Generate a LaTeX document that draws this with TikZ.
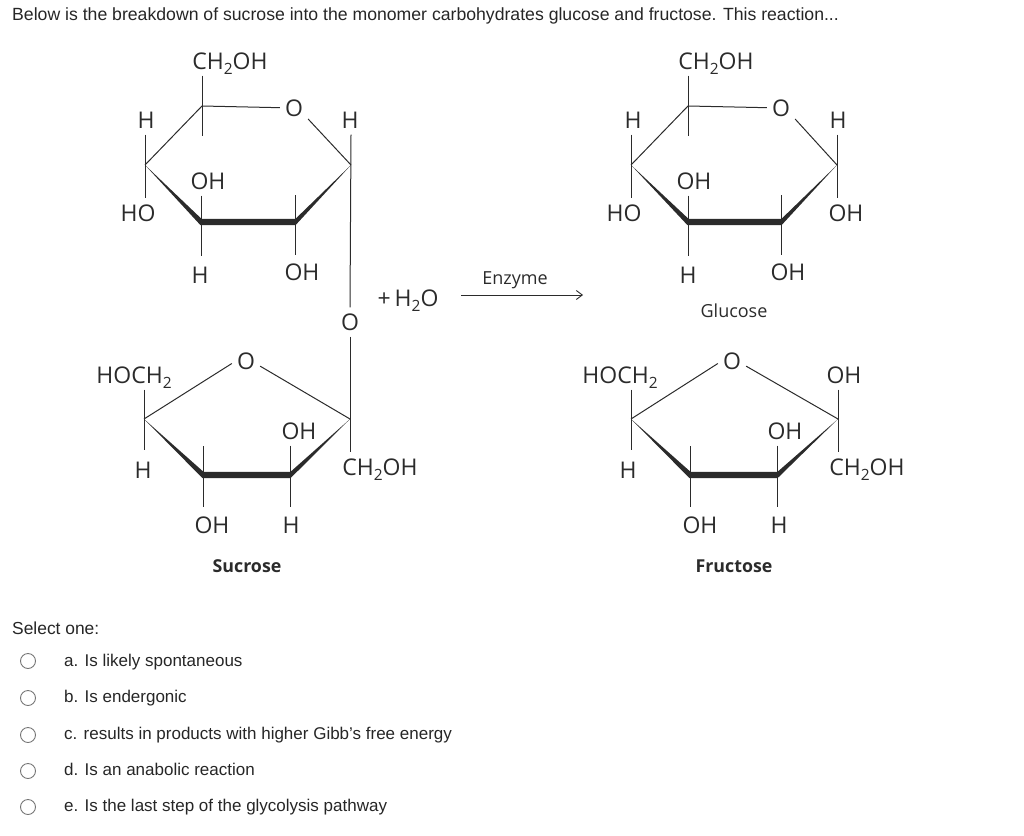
\documentclass[tikz,border=0pt]{standalone}
\usepackage{fontspec}
\setmainfont{Liberation Sans}
\newfontfamily\chemfont{Open Sans}
\usetikzlibrary{arrows.meta}
\definecolor{inkc}{HTML}{2B2B2B}
\definecolor{radioc}{HTML}{757575}
% thick front edge of a ring: left vertex, two lower vertices, right vertex
\newcommand{\ringfront}[4]{%
    \fill [inkc] (#1) -- ([xshift=-.5pt,yshift=-3.2pt]#2) -- ([xshift=.5pt,yshift=-3.2pt]#3) -- (#4)
        -- ([xshift=.5pt,yshift=3.2pt]#3) -- ([xshift=.5pt,yshift=3.2pt]#2) -- cycle;
}
% the lowered 2 of the formulas
\newcommand{\subtwo}{\raisebox{-5pt}{\fontsize{15.5}{16}\selectfont 2}}
\begin{document}
\begin{tikzpicture}[
    x=1pt, y=-1pt,
    % Styles
    atom/.style={% For the labels in the rings
        font=\chemfont\fontsize{23}{26}\selectfont,
        text=inkc,
        text height=16pt,
        text depth=0pt,
        inner xsep=5pt,
        inner ysep=6.5pt,
        },
    caption/.style={% For the sugar names
        font=\chemfont\fontsize{18}{20}\selectfont,
        text=inkc,
        },
    boldcaption/.style={% For the names in bold
        font=\chemfont\bfseries\fontsize{17.8}{20}\selectfont,
        text=inkc,
        },
    bond/.style={% Thin ring and side bonds
        draw=inkc,
        line width=1pt,
        },
    prompt/.style={% For the question text
        anchor=base west,
        inner sep=0pt,
        font=\fontsize{17}{19}\selectfont,
        text=black!85,
        },
    radio/.style={% For the answer circles
        circle,
        draw=radioc,
        line width=.9pt,
        inner sep=0pt,
        minimum size=15pt,
        },
    ]

\useasboundingbox (0,0) rectangle (1024,835);

    % Question text
    \node [prompt, font=\fontsize{17.65}{19}\selectfont] (title) at (12,20) {Below is the breakdown of sucrose into the monomer carbohydrates glucose and fructose. This reaction...};

    % Ring vertices of the sucrose glucose part
    \coordinate (ca1) at (202,106);
    \coordinate (ca2) at (145,165);
    \coordinate (ca3) at (201,222);
    \coordinate (ca4) at (295,222);
    \coordinate (ca5) at (351,165);

    % Labels of the sucrose glucose part
    \node [atom] (cha) at (230,61) {CH\subtwo OH};
    \node [atom] (oa) at (294,108) {O};
    \node [atom] (ha1) at (146,120) {H};
    \node [atom] (ha2) at (350,120) {H};
    \node [atom] (hoa) at (138,213) {HO};
    \node [atom] (oha1) at (208,181) {OH};
    \node [atom] (ha3) at (200,275) {H};
    \node [atom] (oha2) at (302,272) {OH};
    \node [atom] (ol) at (350,322) {O};
    \node [atom] (water) at (408,298) {+\hspace{4pt}H\subtwo O};

    % Ring vertices of the sucrose fructose part
    \coordinate (cb1) at (144,419);
    \coordinate (cb2) at (203,475);
    \coordinate (cb3) at (290,475);
    \coordinate (cb4) at (350,419);

    % Labels of the sucrose fructose part
    \node [atom] (hocb) at (134,375) {HOCH\subtwo};
    \node [atom] (ob) at (246,361) {O};
    \node [atom] (hb1) at (143,470) {H};
    \node [atom] (ohb1) at (299,431) {OH};
    \node [atom] (chb) at (380,467) {CH\subtwo OH};
    \node [atom] (ohb2) at (212,525) {OH};
    \node [atom] (hb2) at (291,525) {H};
    \node [boldcaption] (sucrose) at (247,566) {Sucrose};

    % Reaction arrow
    \coordinate (arrs) at (461,295);
    \coordinate (arre) at (583,295);
    \node [caption] (enzyme) at (515,280) {Enzyme};

    % Ring vertices of the glucose
    \coordinate (cc1) at (688,106);
    \coordinate (cc2) at (631,165);
    \coordinate (cc3) at (688,222);
    \coordinate (cc4) at (781,222);
    \coordinate (cc5) at (837,165);

    % Labels of the glucose
    \node [atom] (chc) at (716,61) {CH\subtwo OH};
    \node [atom] (oc) at (781,108) {O};
    \node [atom] (hc1) at (633,120) {H};
    \node [atom] (hc2) at (838,120) {H};
    \node [atom] (hoc) at (624,213) {HO};
    \node [atom] (ohc1) at (694,181) {OH};
    \node [atom] (ohc2) at (846,213) {OH};
    \node [atom] (hc3) at (688,275) {H};
    \node [atom] (ohc3) at (788,272) {OH};
    \node [caption] (glucose) at (734,311) {Glucose};

    % Ring vertices of the fructose
    \coordinate (cd1) at (631,419);
    \coordinate (cd2) at (690,475);
    \coordinate (cd3) at (777,475);
    \coordinate (cd4) at (838,419);

    % Labels of the fructose
    \node [atom] (hocd) at (620,375) {HOCH\subtwo};
    \node [atom] (od) at (732,361) {O};
    \node [atom] (ohd1) at (844,375) {OH};
    \node [atom] (hd1) at (628,470) {H};
    \node [atom] (ohd2) at (785,431) {OH};
    \node [atom] (chd) at (867,467) {CH\subtwo OH};
    \node [atom] (ohd3) at (700,525) {OH};
    \node [atom] (hd2) at (779,525) {H};
    \node [boldcaption] (fructose) at (734,566) {Fructose};

% Start connecting all.
    % Sucrose, upper ring
    \ringfront{ca2}{ca3}{ca4}{ca5}
    \draw [bond] (ca2) -- (ca1) -- (oa);
    \draw [bond] (oa.-38) -- (ca5);
    \draw [bond] (cha.south -| ca1) -- ++(0,60);
    \draw [bond] (ha1.south -| ca2) -- (hoa.north -| ca2);
    \draw [bond] (oha1.south -| ca3) -- ++(0,60);
    \draw [bond] (ca4) ++(0,-27) -- ++(0,60);
    \draw [bond] (ha2.south -| ca5) -- (ol.north);

    % Sucrose, lower ring
    \ringfront{cb1}{cb2}{cb3}{cb4}
    \draw [bond] (cb1) -- (ob.190);
    \draw [bond] (ob.-20) -- (cb4);
    \draw [bond] (hocb.south -| cb1) -- ++(0,60);
    \draw [bond] (cb2) ++(0,-29) -- ++(0,61);
    \draw [bond] (ohb1.south -| cb3) -- ++(0,61);
    \draw [bond] (ol.south) -- (chb.north -| cb4);

    % Arrow
    \draw [-{Straight Barb[length=6pt,width=9pt]}, line width=.9pt, draw=inkc] (arrs) -- (arre);

    % Glucose
    \ringfront{cc2}{cc3}{cc4}{cc5}
    \draw [bond] (cc2) -- (cc1) -- (oc);
    \draw [bond] (oc.-38) -- (cc5);
    \draw [bond] (chc.south -| cc1) -- ++(0,60);
    \draw [bond] (hc1.south -| cc2) -- (hoc.north -| cc2);
    \draw [bond] (ohc1.south -| cc3) -- ++(0,60);
    \draw [bond] (cc4) ++(0,-27) -- ++(0,60);
    \draw [bond] (hc2.south -| cc5) -- (ohc2.north -| cc5);

    % Fructose
    \ringfront{cd1}{cd2}{cd3}{cd4}
    \draw [bond] (cd1) -- (od.190);
    \draw [bond] (od.-20) -- (cd4);
    \draw [bond] (hocd.south -| cd1) -- ++(0,60);
    \draw [bond] (cd2) ++(0,-29) -- ++(0,61);
    \draw [bond] (ohd2.south -| cd3) -- ++(0,61);
    \draw [bond] (ohd1.south -| cd4) -- (chd.north -| cd4);

    % Answers
    \node [prompt, font=\fontsize{17.4}{19}\selectfont] (select) at (12,634) {Select one:};
    \node [radio] (ra) at (28,661) {};
    \node [radio] (rb) at (28,698) {};
    \node [radio] (rc) at (28,735) {};
    \node [radio] (rd) at (28,771) {};
    \node [radio] (re) at (28,807) {};
    \node [prompt] (opta) at (64,666) {a. Is likely spontaneous};
    \node [prompt] (optb) at (64,702) {b. Is endergonic};
    \node [prompt] (optc) at (64,739) {c. results in products with higher Gibb\symbol{39}s free energy};
    \node [prompt] (optd) at (64,775) {d. Is an anabolic reaction};
    \node [prompt] (opte) at (64,811) {e. Is the last step of the glycolysis pathway};

\end{tikzpicture}
\end{document}
